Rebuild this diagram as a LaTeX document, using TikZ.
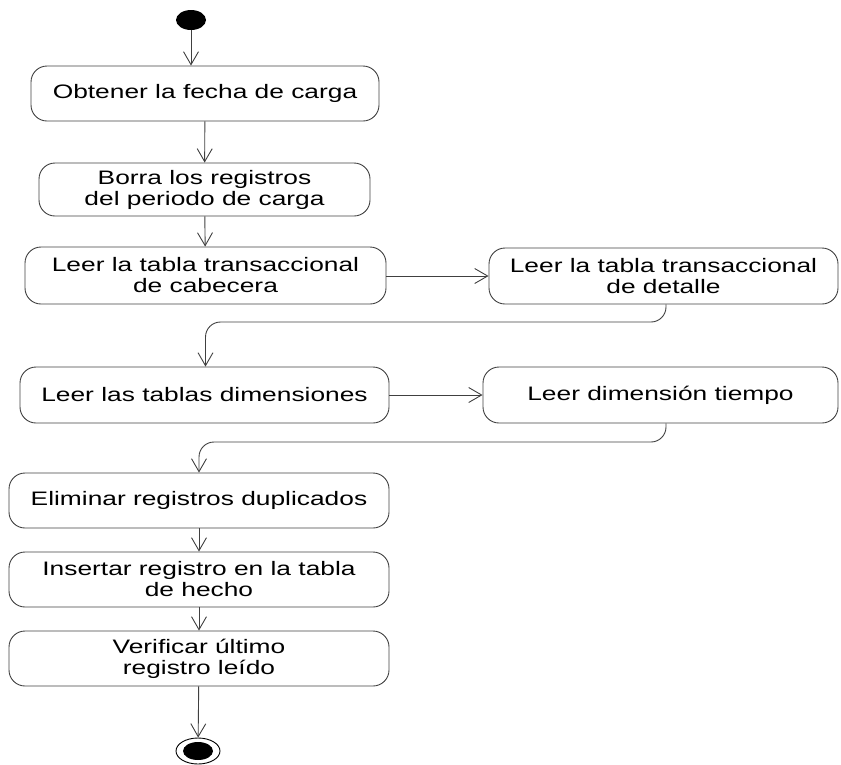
\documentclass[tikz,border=0pt]{standalone}
\usepackage{fontspec}
\usepackage{graphicx}
\setmainfont{Liberation Sans}
\usetikzlibrary{arrows.meta,shapes.geometric}
% wide lettering used in the activity boxes
\newcommand{\wl}[1]{\scalebox{1.35}[1]{#1}}
\begin{document}
\begin{tikzpicture}[x=1pt,y=-1pt,
  act/.style={draw=black!75, line width=0.9pt, rounded corners=16pt,
    align=center, inner sep=0pt, font=\fontsize{19.5}{21}\selectfont},
  flow/.style={draw=black!75, line width=0.9pt,
    -{Straight Barb[length=13pt,width=15pt,line width=0.9pt]}},
  ]
\useasboundingbox (0,0) rectangle (841,764);

% initial state
\node[ellipse, fill=black, minimum width=30pt, minimum height=20pt, inner sep=0pt] (start) at (191,20) {};

% activities
\node[act, minimum width=348pt, minimum height=55pt] (b1) at (205,93.5) {\wl{Obtener la fecha de carga}};
\node[act, minimum width=331pt, minimum height=53pt] (b2) at (204.5,189.5) {\wl{Borra los registros}\\\wl{del periodo de carga}};
\node[act, minimum width=361pt, minimum height=57pt] (b3) at (205.5,275.5) {\wl{Leer la tabla transaccional}\\\wl{de cabecera}};
\node[act, minimum width=349pt, minimum height=56pt] (b4) at (663.5,276) {\wl{Leer la tabla transaccional}\\\wl{de detalle}};
\node[act, minimum width=369pt, minimum height=56pt] (b5) at (204.5,395) {\wl{Leer las tablas dimensiones}};
\node[act, minimum width=355pt, minimum height=56pt] (b6) at (660.5,395) {\wl{Leer dimensión tiempo}};
\node[act, minimum width=380pt, minimum height=55pt] (b7) at (199,500.5) {\wl{Eliminar registros duplicados}};
\node[act, minimum width=380pt, minimum height=55pt] (b8) at (199,579.5) {\wl{Insertar registro en la tabla}\\\wl{de hecho}};
\node[act, minimum width=380pt, minimum height=55pt] (b9) at (199,658.5) {\wl{Verificar último}\\\wl{registro leído}};

% final state
\node[ellipse, draw=black, line width=0.9pt, minimum width=44pt, minimum height=26pt, inner sep=0pt] (stop) at (198,751) {};
\node[ellipse, fill=black, minimum width=30pt, minimum height=18pt, inner sep=0pt] (stopdot) at (198,751) {};

% turning points of the return connectors
\coordinate (t1) at (666,322);
\coordinate (t2) at (666,442);

% transitions
\draw[flow] (start) -- (start |- b1.north);
\draw[flow] (b1) -- (b2);
\draw[flow] (b2) -- (b3);
\draw[flow] (b3.east |- b4.west) -- (b4.west);
\draw[flow, rounded corners=15pt] (b4.south -| t1) -- (t1) -- (t1 -| b3) -- (b5.north -| b3);
\draw[flow] (b5.east) -- (b6.west);
\draw[flow, rounded corners=15pt] (b6.south -| t2) -- (t2) -- (t2 -| b7) -- (b7.north);
\draw[flow] (b7) -- (b8);
\draw[flow] (b8) -- (b9);
\draw[flow] (b9) -- (stop);
\end{tikzpicture}
\end{document}
